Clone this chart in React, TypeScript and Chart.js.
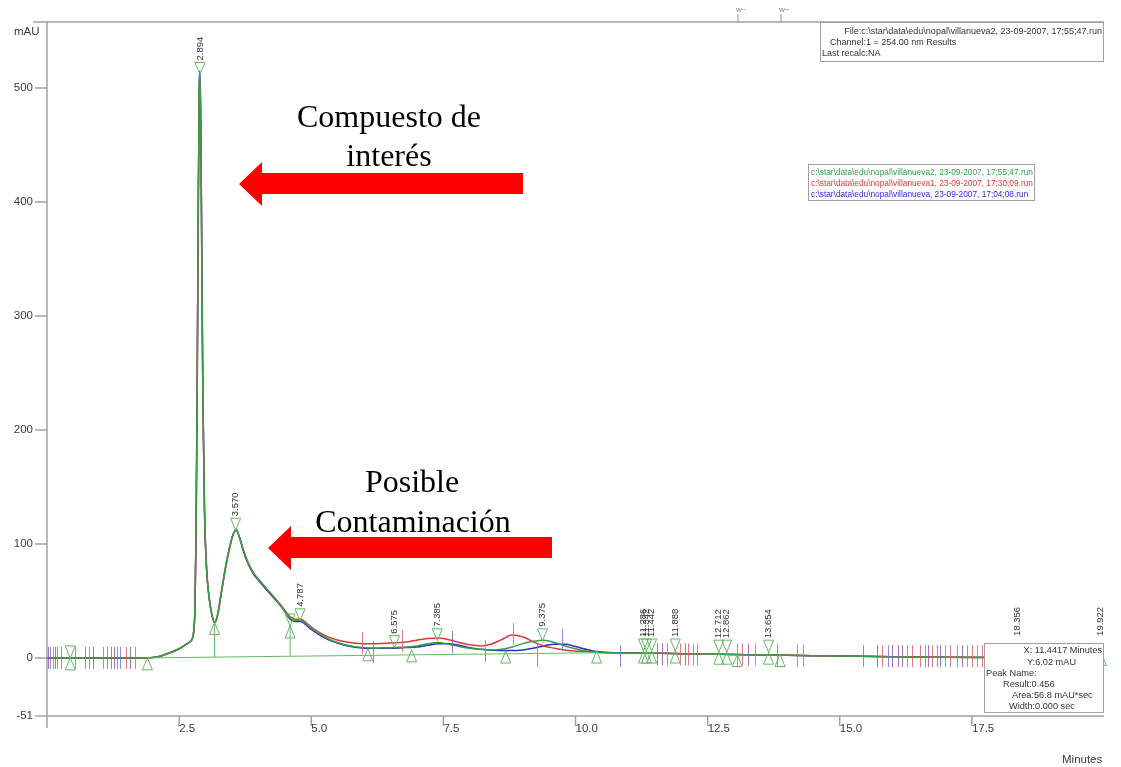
import React, { useEffect, useRef } from "react";
import { Chart, registerables } from "chart.js";
Chart.register(...registerables);

// ---------- DATA ----------
const times = [
  0, 0.5, 1.0, 1.5, 1.9, 2.1, 2.3, 2.5, 2.6, 2.7,
  2.75, 2.78, 2.8, 2.82, 2.84, 2.86, 2.88, 2.895, 2.91, 2.93,
  2.95, 2.98, 3.02, 3.07, 3.12, 3.17, 3.22, 3.3, 3.38, 3.46,
  3.52, 3.58, 3.64, 3.72, 3.8, 3.9, 4.0, 4.15, 4.3, 4.45,
  4.6, 4.7, 4.8, 4.9, 5.0, 5.2, 5.4, 5.6, 5.8, 6.0,
  6.2, 6.5, 6.8, 7.0, 7.2, 7.4, 7.6, 7.8, 8.0, 8.2,
  8.4, 8.6, 8.8, 9.0, 9.2, 9.4, 9.6, 9.8, 10.0, 10.2,
  10.4, 10.8, 11.2, 11.6, 12.0, 12.5, 13.0, 13.5, 14.0, 15.0,
  16.0, 17.0, 18.0, 19.0, 20.0,
];

// green run: villanueva2
const villanueva2 = [
  0, 0, 0, 0, 0, 1, 4, 8, 11, 14,
  17, 25, 45, 110, 230, 380, 500, 512, 470, 350,
  230, 130, 78, 52, 38, 31, 36, 58, 80, 98,
  108, 113, 106, 94, 84, 75, 69, 61, 53, 44,
  35, 33, 33, 30, 26, 20, 15, 12, 10, 9,
  8.5, 9, 9.5, 10.5, 12.5, 13.5, 12, 10, 8.5, 7.5,
  7, 7.5, 9.5, 12.5, 14.5, 15.5, 13.5, 10.5, 8, 6,
  5, 4.5, 4.2, 4, 3.7, 3.3, 3, 2.6, 2.3, 1.6,
  1, 0.6, 0.3, 0.1, 0,
];

// red run: villanueva1
const villanueva1 = [
  0, 0, 0, 0, 0, 1, 4, 8, 11, 14,
  17, 25, 44, 105, 220, 370, 495, 508, 465, 340,
  225, 128, 78, 52, 38, 31, 36, 57, 79, 97,
  108, 112, 106, 94, 84, 75, 69, 61, 53, 45,
  36, 34, 34, 31, 27, 21, 17, 14.5, 13, 12.5,
  12.5, 13, 14, 15.5, 17, 17.5, 16, 13.5, 11.5, 10.5,
  12, 16, 20, 18.5, 14, 10.5, 8.5, 7, 6, 5.5,
  5, 4.5, 4.2, 4, 3.7, 3.3, 3, 2.6, 2.3, 1.6,
  1, 0.6, 0.3, 0.1, 0,
];

// blue run: villanueva
const villanueva = [
  0, 0, 0, 0, 0, 1, 4, 8, 11, 14,
  17, 25, 45, 108, 225, 375, 498, 515, 468, 345,
  228, 130, 78, 52, 38, 31, 36, 58, 80, 98,
  108, 112, 106, 93, 83, 74, 68, 60, 52, 44,
  34, 32, 32, 29, 25, 19, 14.5, 11.5, 9.5, 8.5,
  8.5, 8.5, 9, 9.5, 11, 12.5, 12.5, 11, 9, 7.5,
  7, 6.5, 6.5, 7, 8.5, 10.5, 12, 12, 10, 7.5,
  5.5, 4.5, 4.3, 4, 3.7, 3.3, 3, 2.6, 2.3, 1.6,
  1, 0.6, 0.3, 0.1, 0,
];

const xTickValues = [2.5, 5.0, 7.5, 10.0, 12.5, 15.0, 17.5];
const xTickLabels = ["2.5", "5.0", "7.5", "10.0", "12.5", "15.0", "17.5"];
const yTickValues = [500, 400, 300, 200, 100, 0, -51];
const yTickLabels = ["500", "400", "300", "200", "100", "0", "-51"];

const peakTimes = [2.894, 3.57, 4.787, 6.575, 7.385, 9.375, 11.286, 11.342, 11.442, 11.888, 12.712, 12.862, 13.654, 18.356, 19.922];
const peakTexts = ["2.894", "3.570", "4.787", "6.575", "7.385", "9.375", "11.286", "11.342", "11.442", "11.888", "12.712", "12.862", "13.654", "18.356", "19.922"];
const peakMarkValues = [512, 112, 32.5, 9, 15, 15, 6, 6, 6, 6, 5, 5, 5, 7, 7];

// green integration marks: [time, mAU]
const downTriangles = [
  [2.894, 512], [3.57, 112], [4.787, 32.5], [6.575, 9], [7.385, 15], [9.375, 15],
  [11.286, 6], [11.342, 6], [11.442, 6], [11.888, 6], [12.712, 5], [12.862, 5], [13.654, 5],
  [0.44, 0], [4.6, 28],
];
const upTriangles = [
  [0.44, 0], [1.9, 0], [3.17, 31], [4.6, 28], [6.07, 8], [6.9, 7], [8.68, 6], [10.4, 6],
  [11.286, 6], [11.342, 6], [11.442, 6], [11.888, 6], [12.712, 5], [12.862, 5],
  [13.06, 3], [13.654, 5], [13.87, 3], [19.95, 4],
];
const baselinePoints = [[1.9, 0], [10.4, 4.5]];
const dropLines = [[3.17, 31, 0.7], [4.6, 28, 1.4]];

// event marks: [time, centre mAU]
const eventRed = [
  [0.11, 0], [0.27, 0], [0.53, 0], [0.79, 0], [1.06, 0], [1.32, 0], [1.49, 0], [1.67, 0],
  [5.96, 13], [6.72, 15], [8.29, 6], [8.82, 21],
  [11.73, 3], [11.98, 3], [12.13, 3], [12.22, 3], [12.3, 3], [13.06, 3], [13.15, 3], [13.4, 3],
  [14.19, 2], [14.3, 2], [15.8, 1.5], [16.27, 1.5], [16.37, 1.5], [16.52, 1.5], [16.61, 1.5],
  [16.75, 1.5], [16.84, 1.5], [16.99, 1.5], [17.09, 1.5], [17.22, 1.5], [17.41, 1.5],
  [17.5, 1.5], [17.6, 1.5], [17.69, 1.5],
];
const eventBlue = [
  [0.06, 0], [0.19, 0], [0.72, 0], [1.14, 0], [1.38, 0],
  [6.17, 5], [9.27, 2], [9.74, 16], [10.84, 1.5],
  [13.81, 3], [15.44, 1.5], [15.91, 1.5],
];
const eventPurple = [
  [0.02, 0], [0.15, 0], [0.87, 0], [1.21, 0], [1.27, 0], [1.57, 0],
  [7.66, 14], [11.54, 3], [11.64, 3], [12.07, 3], [13.26, 3],
  [15.7, 1.5], [15.99, 1.5], [16.1, 1.5], [16.18, 1.5], [16.67, 1.5], [16.9, 1.5], [17.31, 1.5],
];

const seriesColors = {
  green: "rgb(52,160,70)",
  red: "rgb(225,55,60)",
  blue: "rgb(45,45,205)",
};

// ---------- DRAWING HELPERS ----------
const SANS = "'Liberation Sans', Arial, sans-serif";
const SERIF = "'Liberation Serif', 'Times New Roman', serif";

function drawArrow(ctx, tipX, cy, endX) {
  ctx.save();
  ctx.fillStyle = "#ff0000";
  ctx.beginPath();
  ctx.moveTo(tipX, cy);
  ctx.lineTo(tipX + 23, cy - 22);
  ctx.lineTo(tipX + 23, cy - 11);
  ctx.lineTo(endX, cy - 11);
  ctx.lineTo(endX, cy + 10);
  ctx.lineTo(tipX + 23, cy + 10);
  ctx.lineTo(tipX + 23, cy + 22);
  ctx.closePath();
  ctx.fill();
  ctx.restore();
}

const overlayPlugin = {
  id: "overlay",
  beforeDatasetsDraw(chart) {
    const { ctx, chartArea, scales } = chart;
    const xs = scales.x;
    const ys = scales.y;
    ctx.save();
    ctx.strokeStyle = "#a3a3a3";
    ctx.lineWidth = 1.5;
    ctx.beginPath();
    ctx.moveTo(chartArea.left, chartArea.top);
    ctx.lineTo(chartArea.left, chartArea.bottom + 12);
    ctx.moveTo(33, chartArea.top);
    ctx.lineTo(chartArea.right, chartArea.top);
    ctx.moveTo(35, chartArea.bottom);
    ctx.lineTo(chartArea.right, chartArea.bottom);
    yTickValues.forEach((v) => {
      const y = ys.getPixelForValue(v);
      ctx.moveTo(35, y);
      ctx.lineTo(chartArea.left, y);
    });
    xTickValues.forEach((v) => {
      const x = xs.getPixelForValue(v);
      ctx.moveTo(x, chartArea.bottom);
      ctx.lineTo(x, chartArea.bottom + 10);
    });
    ctx.stroke();

    ctx.fillStyle = "#3a3a3a";
    ctx.font = `11.5px ${SANS}`;
    ctx.textAlign = "right";
    ctx.textBaseline = "middle";
    yTickValues.forEach((v, i) => {
      ctx.fillText(yTickLabels[i], 33, ys.getPixelForValue(v));
    });
    ctx.textAlign = "left";
    xTickValues.forEach((v, i) => {
      ctx.fillText(xTickLabels[i], xs.getPixelForValue(v), chartArea.bottom + 13);
    });
    ctx.fillText("mAU", 14, 32);
    ctx.fillText("Minutes", 1062, 760);

    ctx.strokeStyle = "#9a9a9a";
    ctx.lineWidth = 1;
    ctx.beginPath();
    [738, 781].forEach((x) => {
      ctx.moveTo(x, 14);
      ctx.lineTo(x, chartArea.top);
    });
    ctx.stroke();
    ctx.fillStyle = "#8a8a8a";
    ctx.font = `8px ${SANS}`;
    ctx.fillText("w\u2212", 736, 10);
    ctx.fillText("w\u2212", 779, 10);
    ctx.restore();
  },
  afterDatasetsDraw(chart) {
    const { ctx, scales } = chart;
    const xs = scales.x;
    const ys = scales.y;
    const px = (t) => xs.getPixelForValue(t);
    const py = (v) => ys.getPixelForValue(v);
    ctx.save();

    const drawEvents = (list, color) => {
      ctx.strokeStyle = color;
      ctx.lineWidth = 1;
      ctx.beginPath();
      list.forEach(([t, v]) => {
        const x = Math.round(px(t)) + 0.5;
        const y = py(v);
        ctx.moveTo(x, y - 11);
        ctx.lineTo(x, y + 11);
      });
      ctx.stroke();
    };
    drawEvents(eventRed, "rgba(225,90,95,0.8)");
    drawEvents(eventBlue, "rgba(110,110,220,0.8)");
    drawEvents(eventPurple, "rgba(150,80,160,0.8)");

    const g = "rgb(100,185,100)";
    ctx.strokeStyle = g;
    ctx.lineWidth = 1;
    ctx.beginPath();
    ctx.moveTo(px(baselinePoints[0][0]), py(baselinePoints[0][1]));
    for (let i = 1; i < baselinePoints.length; i++) {
      ctx.lineTo(px(baselinePoints[i][0]), py(baselinePoints[i][1]));
    }
    dropLines.forEach(([t, top, bot]) => {
      ctx.moveTo(px(t), py(top));
      ctx.lineTo(px(t), py(bot));
    });
    ctx.stroke();

    ctx.beginPath();
    downTriangles.forEach(([t, v]) => {
      const x = px(t);
      const y = py(v);
      ctx.moveTo(x, y);
      ctx.lineTo(x - 5, y - 12);
      ctx.lineTo(x + 5, y - 12);
      ctx.closePath();
    });
    upTriangles.forEach(([t, v]) => {
      const x = px(t);
      const y = py(v);
      ctx.moveTo(x, y);
      ctx.lineTo(x - 5, y + 12);
      ctx.lineTo(x + 5, y + 12);
      ctx.closePath();
    });
    ctx.stroke();

    ctx.fillStyle = "#333";
    ctx.font = `9.5px ${SANS}`;
    ctx.textAlign = "left";
    ctx.textBaseline = "middle";
    peakTimes.forEach((t, i) => {
      const x = px(t);
      const y = py(peakMarkValues[i]) - 14;
      ctx.save();
      ctx.translate(x, y);
      ctx.rotate(-Math.PI / 2);
      ctx.fillText(peakTexts[i], 0, 0);
      ctx.restore();
    });
    ctx.restore();
  },
  afterDraw(chart) {
    const { ctx } = chart;
    ctx.save();
    ctx.strokeStyle = "#a0a0a0";
    ctx.lineWidth = 1;
    ctx.strokeRect(820.5, 22.5, 283, 39);
    ctx.fillStyle = "#333";
    ctx.font = `9px ${SANS}`;
    ctx.textBaseline = "middle";
    ctx.textAlign = "right";
    ctx.fillText("File:c:\\star\\data\\edu\\nopal\\villanueva2, 23-09-2007, 17;55;47.run", 1102, 32);
    ctx.textAlign = "left";
    ctx.fillText("Channel:1 = 254.00 nm Results", 830, 43);
    ctx.fillText("Last recalc:NA", 822, 54);

    ctx.strokeRect(808.5, 164.5, 226, 36);
    ctx.font = `8.3px ${SANS}`;
    ctx.fillStyle = seriesColors.green;
    ctx.fillText("c:\\star\\data\\edu\\nopal\\villanueva2, 23-09-2007, 17;55;47.run", 811, 173);
    ctx.fillStyle = seriesColors.red;
    ctx.fillText("c:\\star\\data\\edu\\nopal\\villanueva1, 23-09-2007, 17;30;09.run", 811, 184);
    ctx.fillStyle = seriesColors.blue;
    ctx.fillText("c:\\star\\data\\edu\\nopal\\villanueva, 23-09-2007, 17;04;08.run", 811, 195);

    ctx.fillStyle = "#fff";
    ctx.fillRect(984, 643, 120, 70);
    ctx.strokeStyle = "#a0a0a0";
    ctx.strokeRect(984.5, 643.5, 119, 69);
    ctx.fillStyle = "#333";
    ctx.font = `9.2px ${SANS}`;
    ctx.textAlign = "right";
    ctx.fillText("X: 11.4417 Minutes", 1102, 650);
    ctx.textAlign = "left";
    ctx.fillText("Y:6.02 mAU", 1027, 662);
    ctx.fillText("Peak Name:", 986, 673);
    ctx.fillText("Result:0.456", 1003, 684);
    ctx.fillText("Area:56.8 mAU*sec", 1012, 695);
    ctx.fillText("Width:0.000 sec", 1009, 706);

    drawArrow(ctx, 239, 184, 523);
    drawArrow(ctx, 268, 548, 552);
    ctx.fillStyle = "#000";
    ctx.font = `32px ${SERIF}`;
    ctx.textAlign = "center";
    ctx.textBaseline = "alphabetic";
    ctx.fillText("Compuesto de", 389, 127);
    ctx.fillText("interés", 389, 166);
    ctx.fillText("Posible", 412, 492);
    ctx.fillText("Contaminación", 413, 532);
    ctx.restore();
  },
};

export default function App() {
  const canvasRef = useRef(null);
  useEffect(() => {
    const canvas = canvasRef.current;
    if (!canvas) return;
    const mk = (vals) => times.map((t, i) => ({ x: t, y: vals[i] }));
    const common = { borderWidth: 1.5, pointRadius: 0, cubicInterpolationMode: "monotone", fill: false };
    const chart = new Chart(canvas, {
      type: "line",
      data: {
        datasets: [
          { label: "villanueva2", data: mk(villanueva2), borderColor: seriesColors.green, ...common },
          { label: "villanueva1", data: mk(villanueva1), borderColor: seriesColors.red, ...common },
          { label: "villanueva", data: mk(villanueva), borderColor: seriesColors.blue, ...common },
        ],
      },
      options: {
        responsive: false,
        maintainAspectRatio: false,
        animation: false,
        layout: { padding: { left: 47, top: 22, right: 17, bottom: 51 } },
        scales: {
          x: { type: "linear", min: 0, max: 20, display: false },
          y: { type: "linear", min: -51, max: 558, display: false },
        },
        plugins: { legend: { display: false }, tooltip: { enabled: false } },
        elements: { point: { radius: 0 } },
      },
      plugins: [overlayPlugin],
    });
    return () => chart.destroy();
  }, []);
  return (
    <div style={{ position: "absolute", left: 0, top: 0, width: 1121, height: 767, background: "#fff" }}>
      <canvas ref={canvasRef} width={1121} height={767} style={{ display: "block", width: 1121, height: 767 }} />
    </div>
  );
}
